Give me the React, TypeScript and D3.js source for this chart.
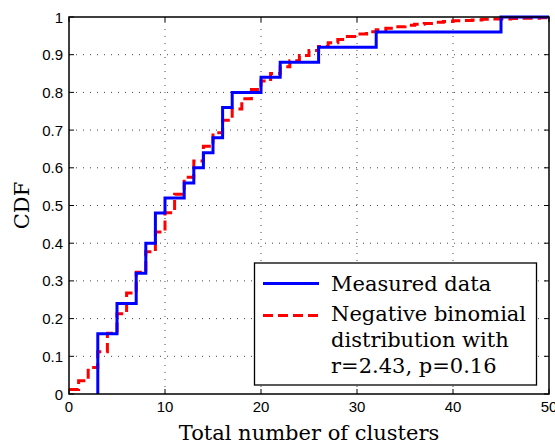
import React from "react";
import * as d3 from "d3";

const measuredX = [3, 5, 7, 8, 9, 10, 12, 13, 14, 15, 16, 17, 20, 22, 26, 32, 45];
const measuredCdf = [0.16, 0.24, 0.32, 0.4, 0.48, 0.52, 0.56, 0.6, 0.64, 0.68, 0.76, 0.8, 0.84, 0.88, 0.92, 0.96, 1.0];

const binomX = d3.range(0, 51);
const binomCdf = [
  0.012, 0.035, 0.07, 0.112, 0.161, 0.213, 0.268, 0.323, 0.377, 0.43,
  0.481, 0.53, 0.575, 0.618, 0.657, 0.693, 0.726, 0.756, 0.783, 0.808,
  0.83, 0.85, 0.868, 0.884, 0.898, 0.911, 0.922, 0.932, 0.94, 0.948,
  0.955, 0.961, 0.966, 0.97, 0.974, 0.978, 0.981, 0.983, 0.986, 0.988,
  0.99, 0.991, 0.992, 0.994, 0.995, 0.995, 0.996, 0.997, 0.997, 0.998, 0.998,
];

const xTicks = [0, 10, 20, 30, 40, 50];
const yTicks = [0, 0.1, 0.2, 0.3, 0.4, 0.5, 0.6, 0.7, 0.8, 0.9, 1];
const legendLabels = ["Measured data", "Negative binomial", "distribution with", "r=2.43, p=0.16"];

const W = 555, H = 444;
const L = 69, R = 549, T = 17, B = 394;

export default function App() {
  const x = d3.scaleLinear().domain([0, 50]).range([L, R]);
  const y = d3.scaleLinear().domain([0, 1]).range([B, T]);
  const line = d3.line<[number, number]>().x(d => x(d[0])).y(d => y(d[1])).curve(d3.curveStepAfter);

  const bluePts: [number, number][] = [[measuredX[0], 0], ...measuredX.map((v, i) => [v, measuredCdf[i]] as [number, number]), [50, 1]];
  const redPts: [number, number][] = binomX.map((v, i) => [v, binomCdf[i]]);

  const tickFont = "'Liberation Sans', Arial, sans-serif";
  const serif = "'DejaVu Serif', serif";

  return (
    <svg width={W} height={H} style={{ position: "absolute", left: 0, top: 0, background: "#fff" }}>
      <defs>
        <clipPath id="plot"><rect x={L} y={T - 3} width={R - L} height={B - T + 3} /></clipPath>
      </defs>
      {/* grid */}
      {xTicks.slice(1, -1).map(t => (
        <line key={"gx" + t} x1={x(t)} x2={x(t)} y1={B} y2={T} stroke="#444" strokeWidth={1} strokeDasharray="1,6" />
      ))}
      {yTicks.slice(1, -1).map(t => (
        <line key={"gy" + t} x1={L} x2={R} y1={y(t)} y2={y(t)} stroke="#444" strokeWidth={1} strokeDasharray="1,6" />
      ))}
      {/* ticks */}
      {xTicks.map(t => (
        <g key={"tx" + t}>
          <line x1={x(t)} x2={x(t)} y1={B} y2={B - 5} stroke="#000" />
          <line x1={x(t)} x2={x(t)} y1={T} y2={T + 5} stroke="#000" />
          <text x={x(t)} y={412} textAnchor="middle" fontFamily={tickFont} fontSize={15}>{t}</text>
        </g>
      ))}
      {yTicks.map(t => (
        <g key={"ty" + t}>
          <line x1={L} x2={L + 5} y1={y(t)} y2={y(t)} stroke="#000" />
          <line x1={R} x2={R - 5} y1={y(t)} y2={y(t)} stroke="#000" />
          <text x={63} y={y(t) + 5.5} textAnchor="end" fontFamily={tickFont} fontSize={15}>{t}</text>
        </g>
      ))}
      {/* data */}
      <g clipPath="url(#plot)">
        <path d={line(redPts) || ""} fill="none" stroke="#ff0000" strokeWidth={3} strokeDasharray="10,5" />
        <path d={line(bluePts) || ""} fill="none" stroke="#0000ff" strokeWidth={3} />
      </g>
      {/* axes box */}
      <rect x={L} y={T} width={R - L} height={B - T} fill="none" stroke="#000" strokeWidth={1.5} />
      {/* labels */}
      <text x={(L + R) / 2} y={440} textAnchor="middle" fontFamily={serif} fontSize={21}>Total number of clusters</text>
      <text transform={`translate(29,${(T + B) / 2}) rotate(-90)`} textAnchor="middle" fontFamily={serif} fontSize={21}>CDF</text>
      {/* legend */}
      <rect x={254.5} y={263} width={282} height={122} fill="#fff" stroke="#000" strokeWidth={1.3} />
      <line x1={263} x2={319} y1={283.5} y2={283.5} stroke="#0000ff" strokeWidth={3} />
      <line x1={263} x2={319} y1={315.5} y2={315.5} stroke="#ff0000" strokeWidth={3} strokeDasharray="10,5" />
      <text x={331} y={291} fontFamily={serif} fontSize={21}>{legendLabels[0]}</text>
      <text x={331} y={321} fontFamily={serif} fontSize={21}>{legendLabels[1]}</text>
      <text x={331} y={347} fontFamily={serif} fontSize={21}>{legendLabels[2]}</text>
      <text x={331} y={372.5} fontFamily={serif} fontSize={21}>{legendLabels[3]}</text>
    </svg>
  );
}
